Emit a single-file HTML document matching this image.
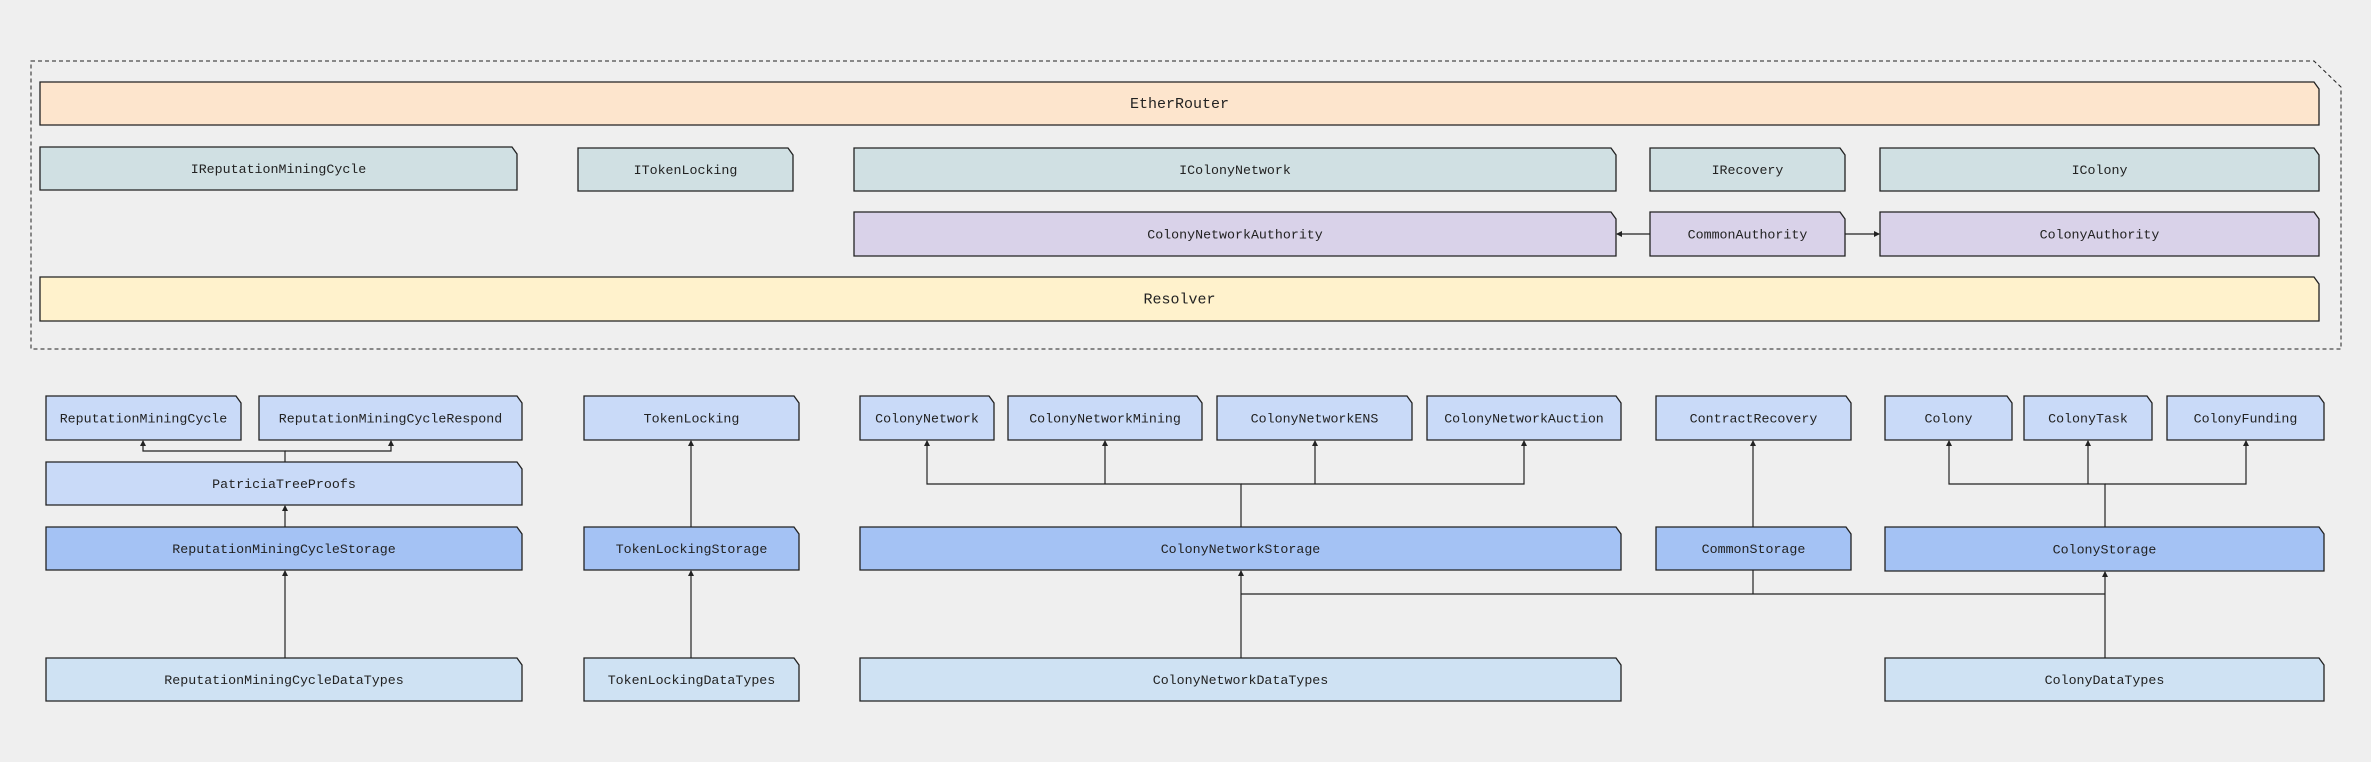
<!DOCTYPE html>
<html><head><meta charset="utf-8"><style>
html,body{margin:0;padding:0;background:#efefef;}
svg{display:block;}
text{font-family:"Liberation Mono",monospace;font-size:13.3px;fill:#222;text-anchor:middle;dominant-baseline:central;}
.b{stroke:#222;stroke-width:1.3;}
.l{stroke:#222;stroke-width:1.2;fill:none;}
</style></head><body>
<svg width="2371" height="762" viewBox="0 0 2371 762" xmlns="http://www.w3.org/2000/svg">
<defs><marker id="a" markerWidth="6" markerHeight="8" refX="5" refY="4" orient="auto" markerUnits="userSpaceOnUse"><path d="M0,1 L6,4 L0,7 z" fill="#222"/></marker></defs>
<rect width="2371" height="762" fill="#efefef"/>
<path d="M31,61 H2314 L2341,87 V349 H31 Z" fill="none" stroke="#222" stroke-width="1" stroke-dasharray="4,3"/>
<g id="boxes"></g>
</svg>
<script>
const B=[
[40,82,2319,125,'#fde5cd','EtherRouter',15],
[40,147,517,190,'#d0e0e3','IReputationMiningCycle'],
[578,148,793,191,'#d0e0e3','ITokenLocking'],
[854,148,1616,191,'#d0e0e3','IColonyNetwork'],
[1650,148,1845,191,'#d0e0e3','IRecovery'],
[1880,148,2319,191,'#d0e0e3','IColony'],
[854,212,1616,256,'#d9d2e9','ColonyNetworkAuthority'],
[1650,212,1845,256,'#d9d2e9','CommonAuthority'],
[1880,212,2319,256,'#d9d2e9','ColonyAuthority'],
[40,277,2319,321,'#fff2cc','Resolver',15],
[46,396,241,440,'#c9daf8','ReputationMiningCycle'],
[259,396,522,440,'#c9daf8','ReputationMiningCycleRespond'],
[46,462,522,505,'#c9daf8','PatriciaTreeProofs'],
[46,527,522,570,'#a4c2f4','ReputationMiningCycleStorage'],
[46,658,522,701,'#cfe2f3','ReputationMiningCycleDataTypes'],
[584,396,799,440,'#c9daf8','TokenLocking'],
[584,527,799,570,'#a4c2f4','TokenLockingStorage'],
[584,658,799,701,'#cfe2f3','TokenLockingDataTypes'],
[860,396,994,440,'#c9daf8','ColonyNetwork'],
[1008,396,1202,440,'#c9daf8','ColonyNetworkMining'],
[1217,396,1412,440,'#c9daf8','ColonyNetworkENS'],
[1427,396,1621,440,'#c9daf8','ColonyNetworkAuction'],
[1656,396,1851,440,'#c9daf8','ContractRecovery'],
[1885,396,2012,440,'#c9daf8','Colony'],
[2024,396,2152,440,'#c9daf8','ColonyTask'],
[2167,396,2324,440,'#c9daf8','ColonyFunding'],
[860,527,1621,570,'#a4c2f4','ColonyNetworkStorage'],
[1656,527,1851,570,'#a4c2f4','CommonStorage'],
[1885,527,2324,571,'#a4c2f4','ColonyStorage'],
[860,658,1621,701,'#cfe2f3','ColonyNetworkDataTypes'],
[1885,658,2324,701,'#cfe2f3','ColonyDataTypes']];
const L=[
['M285,462 V451 H143 V441',1],['M285,451 H391 V441',1],
['M285,527 V506',1],['M285,658 V571',1],
['M691,527 V441',1],['M691,658 V571',1],
['M1241,527 V484 H927 V441',1],['M1105,484 V441',1],['M1315,484 V441',1],['M1241,484 H1524 V441',1],
['M1753,527 V441',1],
['M2105,527 V484 H1949 V441',1],['M2088,484 V441',1],['M2105,484 H2246 V441',1],
['M1241,658 V571',1],['M1241,594 H2105',0],['M1753,570 V594',0],['M2105,658 V572',1],
['M1650,234 H1617',1],['M1845,234 H1879',1]];
const ns='http://www.w3.org/2000/svg',g=document.getElementById('boxes');
for(const l of L){const p=document.createElementNS(ns,'path');p.setAttribute('d',l[0]);p.setAttribute('class','l');if(l[1])p.setAttribute('marker-end','url(#a)');g.appendChild(p);}
for(const b of B){const [x1,y1,x2,y2,c,t,fs]=b;const p=document.createElementNS(ns,'polygon');
p.setAttribute('points',`${x1},${y1} ${x2-5},${y1} ${x2},${y1+7} ${x2},${y2} ${x1},${y2}`);p.setAttribute('fill',c);p.setAttribute('class','b');g.appendChild(p);
const tx=document.createElementNS(ns,'text');tx.setAttribute('x',(x1+x2)/2);tx.setAttribute('y',(y1+y2)/2+1);if(fs)tx.setAttribute('style','font-size:'+fs+'px');tx.textContent=t;g.appendChild(tx);}
</script>
</body></html>
